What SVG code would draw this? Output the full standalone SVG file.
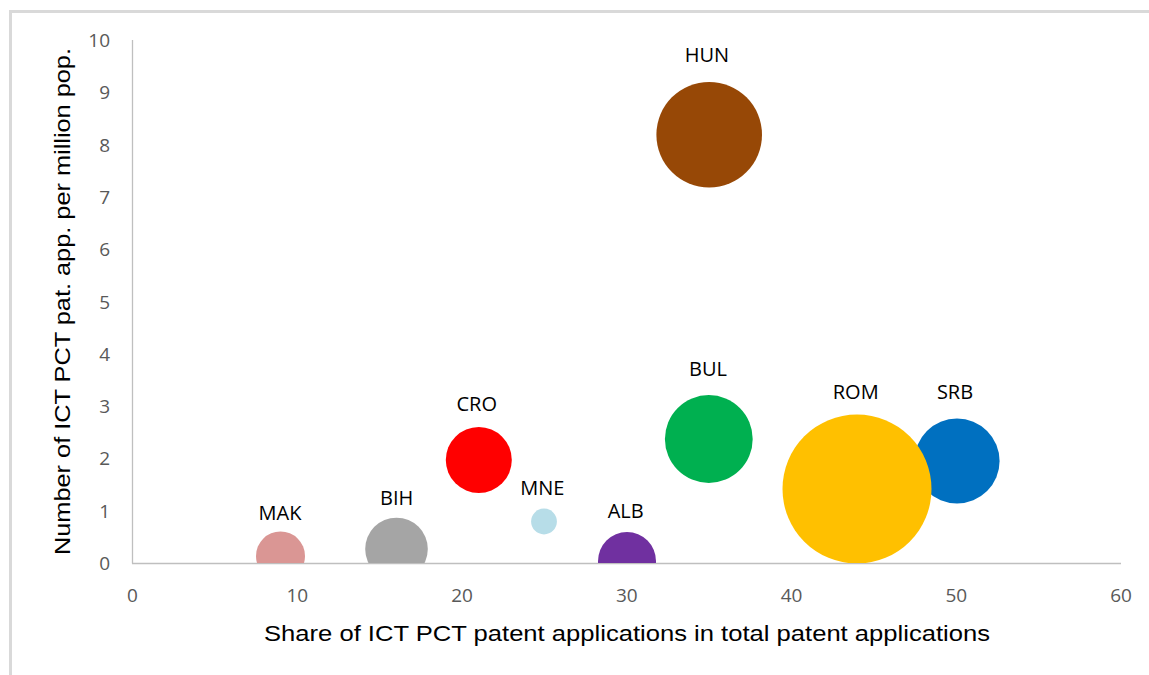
<svg xmlns="http://www.w3.org/2000/svg" width="1149" height="675" viewBox="0 0 1149 675">
<style>
.frame{fill:none;stroke:#d9d9d9;stroke-width:3}
.axis{stroke:#bfbfbf;stroke-width:1.3;fill:none}
.tick{font-family:"Open Sans","Liberation Sans",sans-serif;font-size:19px;fill:#595959}
.ty{text-anchor:end}
.tx{text-anchor:middle}
.lbl{font-family:"Open Sans","Liberation Sans",sans-serif;font-size:20px;fill:#000;text-anchor:middle}
.title{font-family:"Liberation Sans","Open Sans",sans-serif;font-size:22px;fill:#000;text-anchor:middle}
</style>
<defs>
<clipPath id="plot"><rect x="132" y="40" width="989" height="523"/></clipPath>
</defs>
<rect width="1149" height="675" fill="#fff"/>
<rect class="frame" x="10.5" y="11.5" width="1200" height="700"/>
<g id="axes">
<line class="axis" x1="132.5" y1="40" x2="132.5" y2="563.5"/>
<line class="axis" x1="132" y1="563.5" x2="1121" y2="563.5"/>
</g>
<g id="y-ticks">
<text class="tick ty" x="110" y="570">0</text>
<text class="tick ty" x="110" y="517.7">1</text>
<text class="tick ty" x="110" y="465.4">2</text>
<text class="tick ty" x="110" y="413.1">3</text>
<text class="tick ty" x="110" y="360.8">4</text>
<text class="tick ty" x="110" y="308.5">5</text>
<text class="tick ty" x="110" y="256.2">6</text>
<text class="tick ty" x="110" y="203.9">7</text>
<text class="tick ty" x="110" y="151.6">8</text>
<text class="tick ty" x="110" y="99.3">9</text>
<text class="tick ty" x="110" y="47">10</text>
</g>
<g id="x-ticks">
<text class="tick tx" x="132.5" y="602">0</text>
<text class="tick tx" x="297.3" y="602">10</text>
<text class="tick tx" x="462" y="602">20</text>
<text class="tick tx" x="626.8" y="602">30</text>
<text class="tick tx" x="791.5" y="602">40</text>
<text class="tick tx" x="956.3" y="602">50</text>
<text class="tick tx" x="1121" y="602">60</text>
</g>
<text id="x-title" class="title" x="627" y="641" textLength="726" lengthAdjust="spacingAndGlyphs">Share of ICT PCT patent applications in total patent applications</text>
<text id="y-title" class="title" transform="translate(70,301.5) rotate(-90)" x="0" y="0" textLength="507" lengthAdjust="spacingAndGlyphs">Number of ICT PCT pat. app. per million pop.</text>
<g id="bubbles" clip-path="url(#plot)">
<g id="MAK"><circle cx="280.5" cy="556" r="24.5" fill="#da9694"/></g>
<g id="BIH"><circle cx="396.5" cy="549" r="31.3" fill="#a5a5a5"/></g>
<g id="CRO"><circle cx="478.8" cy="460" r="33" fill="#ff0000"/></g>
<g id="MNE"><circle cx="544" cy="521.5" r="12.9" fill="#b7dde8"/></g>
<g id="ALB"><circle cx="627" cy="561" r="29" fill="#7030a0"/></g>
<g id="BUL"><circle cx="708.8" cy="439" r="43.9" fill="#00b050"/></g>
<g id="HUN"><circle cx="709.2" cy="134.7" r="52.8" fill="#974806"/></g>
<g id="SRB"><circle cx="957" cy="461" r="42.6" fill="#0070c0"/></g>
<g id="ROM"><circle cx="857" cy="489" r="74.5" fill="#ffc000"/></g>
</g>
<g id="labels">
<text class="lbl" x="280" y="519.5">MAK</text>
<text class="lbl" x="396.7" y="505">BIH</text>
<text class="lbl" x="476.7" y="411">CRO</text>
<text class="lbl" x="542.3" y="495">MNE</text>
<text class="lbl" x="625.7" y="517.5">ALB</text>
<text class="lbl" x="708" y="376">BUL</text>
<text class="lbl" x="707" y="62">HUN</text>
<text class="lbl" x="855.7" y="399">ROM</text>
<text class="lbl" x="955" y="399">SRB</text>
</g>
</svg>
